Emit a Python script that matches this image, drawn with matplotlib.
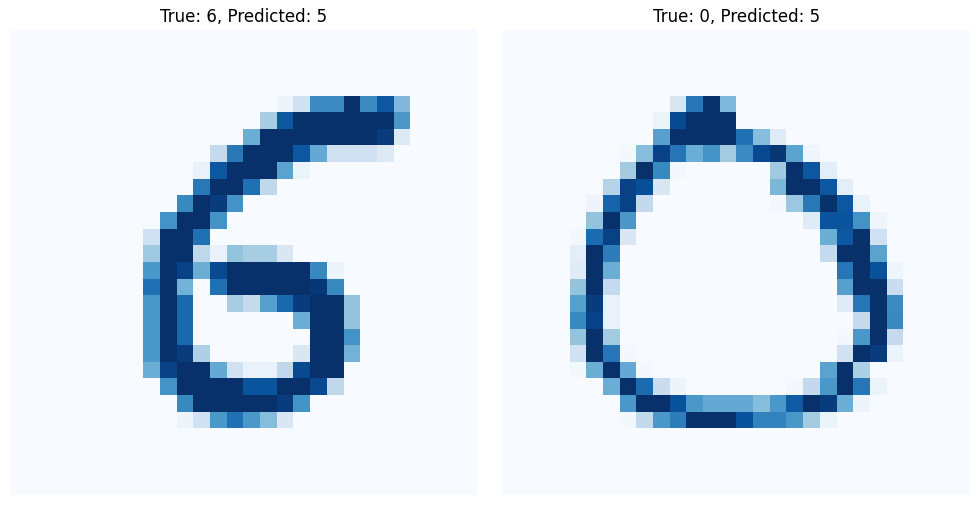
import numpy as np
import matplotlib
matplotlib.use("Agg")
import matplotlib.pyplot as plt

# Pixel intensities (0..1) of two 28x28 digit images, stored per row as (start column, values)
titles = ["True: 6, Predicted: 5", "True: 0, Predicted: 5"]

digit_six = {
    4: (16, [0.05, 0.2, 0.65, 0.65, 1.0, 0.65, 0.85, 0.45]),
    5: (15, [0.35, 0.85, 1, 1, 1, 1, 1, 1, 0.6]),
    6: (14, [0.5, 1, 1, 1, 1, 1, 1, 1, 0.95, 0.13]),
    7: (12, [0.25, 0.72, 1, 1, 1, 0.85, 0.52, 0.2, 0.2, 0.2, 0.13]),
    8: (11, [0.07, 0.85, 1, 1, 1, 0.55, 0.06]),
    9: (11, [0.72, 1, 1, 0.75, 0.27]),
    10: (10, [0.66, 1, 0.95, 0.62]),
    11: (9, [0.62, 1, 1, 0.62]),
    12: (8, [0.2, 1, 1, 0.75]),
    13: (8, [0.37, 1, 1, 0.27, 0.07, 0.4, 0.35, 0.35, 0.15]),
    14: (8, [0.6, 1, 0.93, 0.5, 0.9, 1, 1, 1, 1, 1, 0.66, 0.05]),
    15: (8, [0.75, 1, 0.48, 0, 0.75, 1, 1, 1, 1, 1, 0.97, 0.66]),
    16: (8, [0.6, 1, 0.78, 0, 0, 0.35, 0.25, 0.56, 0.78, 0.95, 1, 1, 0.4]),
    17: (8, [0.6, 1, 0.78, 0, 0, 0, 0, 0, 0, 0.5, 1, 1, 0.4]),
    18: (8, [0.6, 1, 0.78, 0, 0, 0, 0, 0, 0, 0, 1, 1, 0.62]),
    19: (8, [0.6, 1, 0.95, 0.33, 0, 0, 0, 0, 0, 0.15, 1, 1, 0.48]),
    20: (8, [0.5, 0.93, 1, 1, 0.52, 0.2, 0.07, 0.07, 0.27, 0.9, 1, 1]),
    21: (9, [0.62, 1, 1, 1, 1, 0.86, 0.86, 1, 1, 0.9, 0.27]),
    22: (10, [0.66, 1, 1, 1, 1, 1, 0.95, 0.62]),
    23: (10, [0.05, 0.2, 0.6, 0.75, 0.6, 0.43, 0.15]),
}

digit_zero = {
    4: (10, [0.15, 0.73, 1, 0.45]),
    5: (9, [0.06, 0.9, 1, 1, 1]),
    6: (9, [0.56, 1, 1, 1, 1, 0.75, 0.43, 0.12]),
    7: (7, [0.02, 0.43, 0.93, 0.73, 0.5, 0.62, 0.36, 0.65, 0.9, 0.97, 0.55, 0.04]),
    8: (7, [0.36, 1, 0.66, 0.02, 0, 0, 0, 0, 0, 0.37, 1, 0.85, 0.1]),
    9: (6, [0.3, 0.93, 0.88, 0.15, 0, 0, 0, 0, 0, 0, 0.46, 1, 1, 0.85, 0.1]),
    10: (5, [0.05, 0.8, 0.93, 0.26, 0, 0, 0, 0, 0, 0, 0, 0.02, 0.38, 0.72, 1, 0.85, 0.07]),
    11: (5, [0.4, 1, 0.6, 0, 0, 0, 0, 0, 0, 0, 0, 0, 0, 0.12, 0.86, 0.86, 0.62, 0.04]),
    12: (4, [0.02, 0.77, 0.93, 0.15, 0, 0, 0, 0, 0, 0, 0, 0, 0, 0, 0, 0.5, 0.85, 1, 0.2]),
    13: (4, [0.1, 1, 0.7, 0, 0, 0, 0, 0, 0, 0, 0, 0, 0, 0, 0, 0.25, 1, 1, 0.55]),
    14: (4, [0.12, 1, 0.5, 0, 0, 0, 0, 0, 0, 0, 0, 0, 0, 0, 0, 0, 0.73, 1, 0.87, 0.04]),
    15: (4, [0.4, 1, 0.25, 0, 0, 0, 0, 0, 0, 0, 0, 0, 0, 0, 0, 0, 0.56, 1, 1, 0.23]),
    16: (4, [0.56, 0.95, 0.07, 0, 0, 0, 0, 0, 0, 0, 0, 0, 0, 0, 0, 0, 0.12, 0.73, 1, 0.65]),
    17: (4, [0.66, 0.93, 0.07, 0, 0, 0, 0, 0, 0, 0, 0, 0, 0, 0, 0, 0, 0, 0.25, 1, 0.66]),
    18: (4, [0.4, 1, 0.36, 0, 0, 0, 0, 0, 0, 0, 0, 0, 0, 0, 0, 0, 0.02, 0.6, 1, 0.25]),
    19: (4, [0.2, 1, 0.73, 0.02, 0, 0, 0, 0, 0, 0, 0, 0, 0, 0, 0, 0, 0.2, 1, 0.95, 0.06]),
    20: (4, [0.02, 0.5, 1, 0.52, 0.02, 0, 0, 0, 0, 0, 0, 0, 0, 0, 0, 0.55, 1, 0.33]),
    21: (6, [0.5, 1, 0.77, 0.23, 0.05, 0, 0, 0, 0, 0, 0, 0.02, 0.26, 0.6, 1, 0.73, 0.06]),
    22: (7, [0.6, 1, 1, 0.87, 0.6, 0.52, 0.52, 0.52, 0.43, 0.6, 0.83, 1, 0.95, 0.5, 0.05]),
    23: (7, [0.02, 0.26, 0.6, 0.7, 1, 1, 1, 0.87, 0.68, 0.68, 0.6, 0.36, 0.06]),
}


def to_image(rows):
    img = np.zeros((28, 28))
    for r, (start, vals) in rows.items():
        img[r, start:start + len(vals)] = vals
    return img


images = [to_image(digit_six), to_image(digit_zero)]

fig = plt.figure(figsize=(9.78, 5.06), dpi=100)
W, H = 978, 506
boxes = [(10, 30, 467, 466), (503, 30, 467, 466)]
for (x, y, w, h), img, title in zip(boxes, images, titles):
    ax = fig.add_axes([x / W, (H - y - h) / H, w / W, h / H])
    ax.imshow(img, cmap="Blues", vmin=0, vmax=1, aspect="auto", interpolation="nearest")
    ax.set_title(title, fontsize=12)
    ax.axis("off")

fig.savefig("out.png", dpi=100)
